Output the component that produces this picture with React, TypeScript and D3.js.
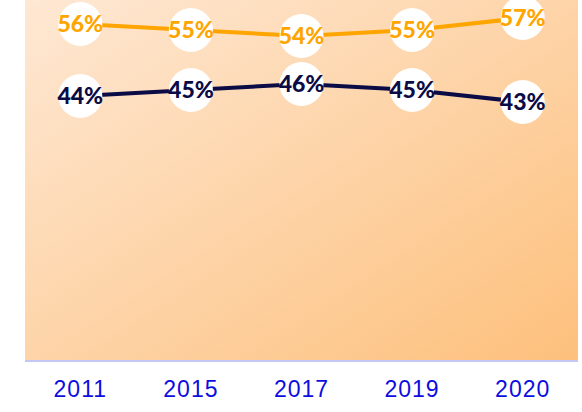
import React, { useEffect, useRef } from 'react';
import * as d3 from 'd3';

const years = ['2011', '2015', '2017', '2019', '2020'];
const seriesA = [56, 55, 54, 55, 57];
const seriesB = [44, 45, 46, 45, 43];

const W = 582;
const H = 412;

const App: React.FC = () => {
  const svgRef = useRef<SVGSVGElement>(null);

  useEffect(() => {
    if (!svgRef.current) {return;}
    const svg = d3.select(svgRef.current);
    svg.selectAll('*').remove();

    const left = 25, right = 578, top = 0, bottom = 360;

    const x = d3.scaleBand().domain(years).range([left, right]);
    const y = d3.scaleLinear().domain([0, 60]).range([bottom, top]);

    // background gradient
    const defs = svg.append('defs');
    const grad = defs.append('linearGradient')
      .attr('id', 'bg')
      .attr('x1', '0%').attr('y1', '0%')
      .attr('x2', '100%').attr('y2', '100%');
    grad.append('stop').attr('offset', '0%').attr('stop-color', '#fee8d4');
    grad.append('stop').attr('offset', '100%').attr('stop-color', '#fdc07c');

    svg.append('rect')
      .attr('x', left).attr('y', top)
      .attr('width', right - left).attr('height', bottom - top)
      .attr('fill', 'url(#bg)');

    // x axis
    svg.append('line')
      .attr('x1', left).attr('x2', right)
      .attr('y1', bottom + 1).attr('y2', bottom + 1)
      .attr('stroke', '#c4c6f4').attr('stroke-width', 2);

    svg.selectAll('.tick')
      .data(years)
      .enter()
      .append('text')
      .attr('class', 'tick')
      .attr('x', d => (x(d) || 0) + x.bandwidth() / 2)
      .attr('y', 397)
      .attr('text-anchor', 'middle')
      .attr('font-family', 'Liberation Sans, Arial, sans-serif')
      .attr('font-size', 23)
      .attr('letter-spacing', 1)
      .attr('fill', '#0d0de0')
      .text(d => d);

    const line = d3.line<number>()
      .x((_, i) => (x(years[i]) || 0) + x.bandwidth() / 2)
      .y(d => y(d));

    const series = [
      { values: seriesA, color: '#ffa500' },
      { values: seriesB, color: '#0b0b45' },
    ];

    series.forEach(s => {
      svg.append('path')
        .datum(s.values)
        .attr('d', line)
        .attr('fill', 'none')
        .attr('stroke', s.color)
        .attr('stroke-width', 4);
    });

    series.forEach(s => {
      const g = svg.append('g');
      g.selectAll('circle')
        .data(s.values)
        .enter()
        .append('circle')
        .attr('cx', (_, i) => (x(years[i]) || 0) + x.bandwidth() / 2)
        .attr('cy', d => y(d))
        .attr('r', 22)
        .attr('fill', '#ffffff');
      g.selectAll('text')
        .data(s.values)
        .enter()
        .append('text')
        .attr('x', (_, i) => (x(years[i]) || 0) + x.bandwidth() / 2)
        .attr('y', d => y(d))
        .attr('dy', '0.36em')
        .attr('text-anchor', 'middle')
        .attr('font-family', 'Lato, sans-serif')
        .attr('font-weight', 900)
        .attr('font-size', 23)
        .attr('fill', s.color)
        .text(d => d + '%');
    });
  }, []);

  return (
    <svg
      ref={svgRef}
      width={W}
      height={H}
      style={{ position: 'absolute', left: 0, top: 0, display: 'block' }}
    />
  );
};

export default App;
